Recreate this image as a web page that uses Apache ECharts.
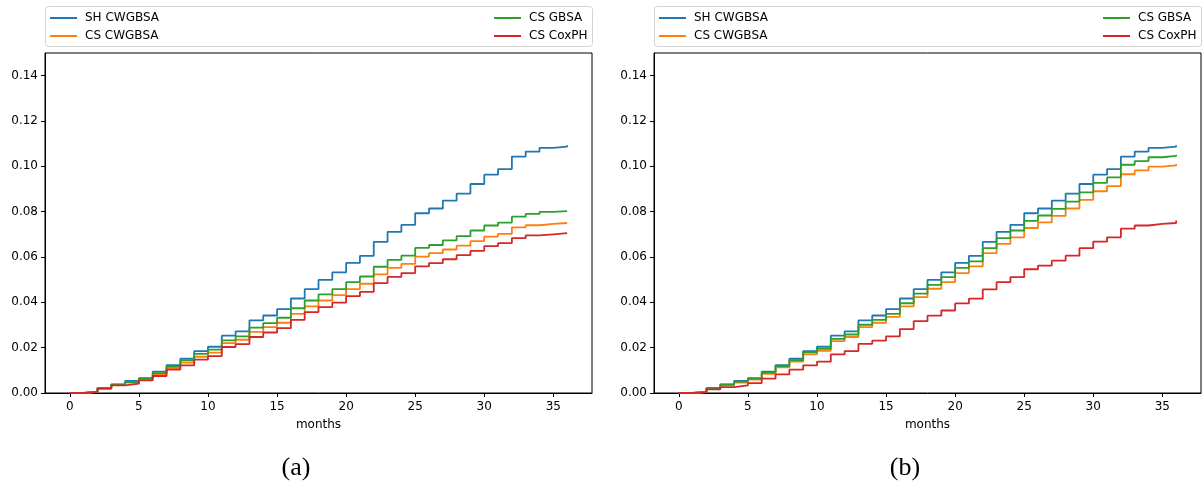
<!DOCTYPE html>
<html>
<head>
<meta charset="utf-8">
<title>Cumulative incidence over months</title>
<script src="https://cdn.jsdelivr.net/npm/echarts@6/dist/echarts.min.js"></script>
<style>
  html, body { margin: 0; padding: 0; background: #fff; }
  #chart { width: 1203px; height: 489px; }
</style>
</head>
<body>
<div id="chart"></div>
<script>
// Months 0..36; each value holds from its month up to the next one.
const months = [0,1,2,3,4,5,6,7,8,9,10,11,12,13,14,15,16,17,18,19,20,21,22,23,24,25,26,27,28,29,30,31,32,33,34,35,36];

const xTicks = [0, 5, 10, 15, 20, 25, 30, 35];
const yTicks = [0, 0.02, 0.04, 0.06, 0.08, 0.10, 0.12, 0.14];

const seriesNames = ['SH CWGBSA', 'CS CWGBSA', 'CS GBSA', 'CS CoxPH'];

// SH CWGBSA (same curve in both panels)
const shCwgbsa = [0, 0.0005, 0.0022, 0.0038, 0.0053, 0.0066, 0.0094, 0.0123, 0.0151, 0.0185, 0.0204, 0.0253, 0.0272, 0.0320, 0.0342, 0.0370, 0.0417, 0.0458, 0.0499, 0.0532, 0.0574, 0.0605, 0.0667, 0.0711, 0.0742, 0.0793, 0.0814, 0.0849, 0.0880, 0.0922, 0.0963, 0.0988, 0.1043, 0.1065, 0.1081, 0.1087, 0.1093];

// Panel (a)
const csCwgbsaA = [0, 0.0005, 0.0019, 0.0035, 0.0046, 0.0060, 0.0082, 0.0110, 0.0134, 0.0160, 0.0178, 0.0220, 0.0235, 0.0270, 0.0291, 0.0310, 0.0349, 0.0382, 0.0408, 0.0432, 0.0458, 0.0482, 0.0523, 0.0552, 0.0570, 0.0602, 0.0617, 0.0633, 0.0650, 0.0670, 0.0690, 0.0702, 0.0731, 0.0740, 0.0746, 0.0750, 0.0753];
const csGbsaA = [0, 0.0005, 0.0021, 0.0037, 0.0048, 0.0063, 0.0088, 0.0117, 0.0144, 0.0173, 0.0191, 0.0232, 0.0250, 0.0288, 0.0308, 0.0332, 0.0374, 0.0408, 0.0435, 0.0458, 0.0489, 0.0514, 0.0557, 0.0587, 0.0606, 0.0640, 0.0653, 0.0673, 0.0692, 0.0717, 0.0739, 0.0752, 0.0778, 0.0790, 0.0799, 0.0802, 0.0805];
const csCoxphA = [0, 0.0005, 0.0019, 0.0034, 0.0041, 0.0056, 0.0075, 0.0103, 0.0122, 0.0147, 0.0163, 0.0203, 0.0216, 0.0247, 0.0267, 0.0286, 0.0323, 0.0357, 0.0379, 0.0399, 0.0427, 0.0446, 0.0485, 0.0512, 0.0529, 0.0559, 0.0573, 0.0590, 0.0608, 0.0627, 0.0648, 0.0661, 0.0683, 0.0695, 0.0700, 0.0705, 0.0707];

// Panel (b)
const csCwgbsaB = [0, 0.0005, 0.0019, 0.0034, 0.0046, 0.0059, 0.0085, 0.0113, 0.0138, 0.0170, 0.0186, 0.0229, 0.0247, 0.0291, 0.0310, 0.0336, 0.0382, 0.0423, 0.0460, 0.0489, 0.0529, 0.0559, 0.0617, 0.0658, 0.0687, 0.0728, 0.0753, 0.0781, 0.0814, 0.0852, 0.0890, 0.0913, 0.0965, 0.0982, 0.0999, 0.1004, 0.1010];
const csGbsaB = [0, 0.0005, 0.0022, 0.0037, 0.0050, 0.0063, 0.0090, 0.0119, 0.0145, 0.0179, 0.0195, 0.0239, 0.0258, 0.0301, 0.0323, 0.0349, 0.0396, 0.0438, 0.0477, 0.0511, 0.0552, 0.0581, 0.0639, 0.0683, 0.0717, 0.0759, 0.0783, 0.0812, 0.0844, 0.0885, 0.0927, 0.0951, 0.1007, 0.1023, 0.1040, 0.1046, 0.1051];
const csCoxphB = [0, 0.0003, 0.0016, 0.0026, 0.0034, 0.0044, 0.0063, 0.0082, 0.0103, 0.0122, 0.0138, 0.0170, 0.0185, 0.0217, 0.0231, 0.0250, 0.0282, 0.0317, 0.0341, 0.0364, 0.0395, 0.0416, 0.0457, 0.0489, 0.0511, 0.0546, 0.0562, 0.0584, 0.0606, 0.0639, 0.0668, 0.0687, 0.0725, 0.0739, 0.0746, 0.0750, 0.0761];

const colors = ['#1f77b4', '#ff7f0e', '#2ca02c', '#d62728'];
const panels = [
  { left: 45, caption: '(a)', values: [shCwgbsa, csCwgbsaA, csGbsaA, csCoxphA] },
  { left: 654, caption: '(b)', values: [shCwgbsa, csCwgbsaB, csGbsaB, csCoxphB] }
];

const FONT = 'DejaVu Sans';
const PLOT_W = 547;
const PLOT_TOP = 53;
const PLOT_H = 340;

const grids = [], xAxes = [], yAxes = [], series = [], legends = [], graphics = [];

panels.forEach((p, i) => {
  grids.push({
    left: p.left, top: PLOT_TOP, width: PLOT_W, height: PLOT_H,
    show: true, borderColor: '#000', borderWidth: 1, backgroundColor: 'transparent'
  });
  xAxes.push({
    type: 'value', gridIndex: i, min: -1.8, max: 37.8,
    name: 'months', nameLocation: 'middle', nameGap: 26,
    nameTextStyle: { fontFamily: FONT, fontSize: 12, color: '#000' },
    axisLine: { show: true, onZero: false, lineStyle: { color: '#000', width: 1 } },
    axisTick: { show: true, length: 4, customValues: xTicks, lineStyle: { color: '#000', width: 1 } },
    axisLabel: { customValues: xTicks, fontFamily: FONT, fontSize: 12, color: '#000', margin: 8 },
    splitLine: { show: false }
  });
  yAxes.push({
    type: 'value', gridIndex: i, min: 0, max: 0.15,
    axisLine: { show: true, onZero: false, lineStyle: { color: '#000', width: 1 } },
    axisTick: { show: true, length: 4, customValues: yTicks, lineStyle: { color: '#000', width: 1 } },
    axisLabel: {
      customValues: yTicks, fontFamily: FONT, fontSize: 12, color: '#000', margin: 7,
      formatter: v => v.toFixed(2)
    },
    splitLine: { show: false }
  });
  p.values.forEach((vals, k) => {
    series.push({
      name: seriesNames[k], type: 'line', step: 'end',
      xAxisIndex: i, yAxisIndex: i,
      data: months.map((m, j) => [m, vals[j]]),
      showSymbol: false, symbol: 'none',
      lineStyle: { color: colors[k], width: 1.8 },
      itemStyle: { color: colors[k] },
      z: 2 + k, animation: false
    });
  });
  const legendCommon = {
    orient: 'vertical', top: 11, padding: 0, itemWidth: 27, itemHeight: 2, itemGap: 4,
    icon: 'rect', selectedMode: false,
    textStyle: { fontFamily: FONT, fontSize: 12, color: '#000', lineHeight: 14, padding: [0, 0, 0, 3] }
  };
  legends.push(Object.assign({}, legendCommon, { left: p.left + 5, data: [seriesNames[0], seriesNames[1]] }));
  legends.push(Object.assign({}, legendCommon, { left: p.left + 449, data: [seriesNames[2], seriesNames[3]] }));
  graphics.push({
    type: 'rect', left: p.left, top: 6, silent: true,
    shape: { width: PLOT_W, height: 40, r: 3 },
    style: { fill: 'rgba(255,255,255,0.8)', stroke: '#d4d4d4', lineWidth: 1 },
    z: -1
  });
  graphics.push({
    type: 'text', x: p.left + 251, y: 468, silent: true,
    style: {
      text: p.caption, fontFamily: 'Liberation Serif', fontSize: 26, fill: '#000',
      align: 'center', verticalAlign: 'middle'
    }
  });
});

const chart = echarts.init(document.getElementById('chart'), null, { renderer: 'canvas' });
chart.setOption({
  animation: false,
  backgroundColor: '#fff',
  grid: grids,
  xAxis: xAxes,
  yAxis: yAxes,
  legend: legends,
  series: series,
  graphic: graphics
});
</script>
</body>
</html>
